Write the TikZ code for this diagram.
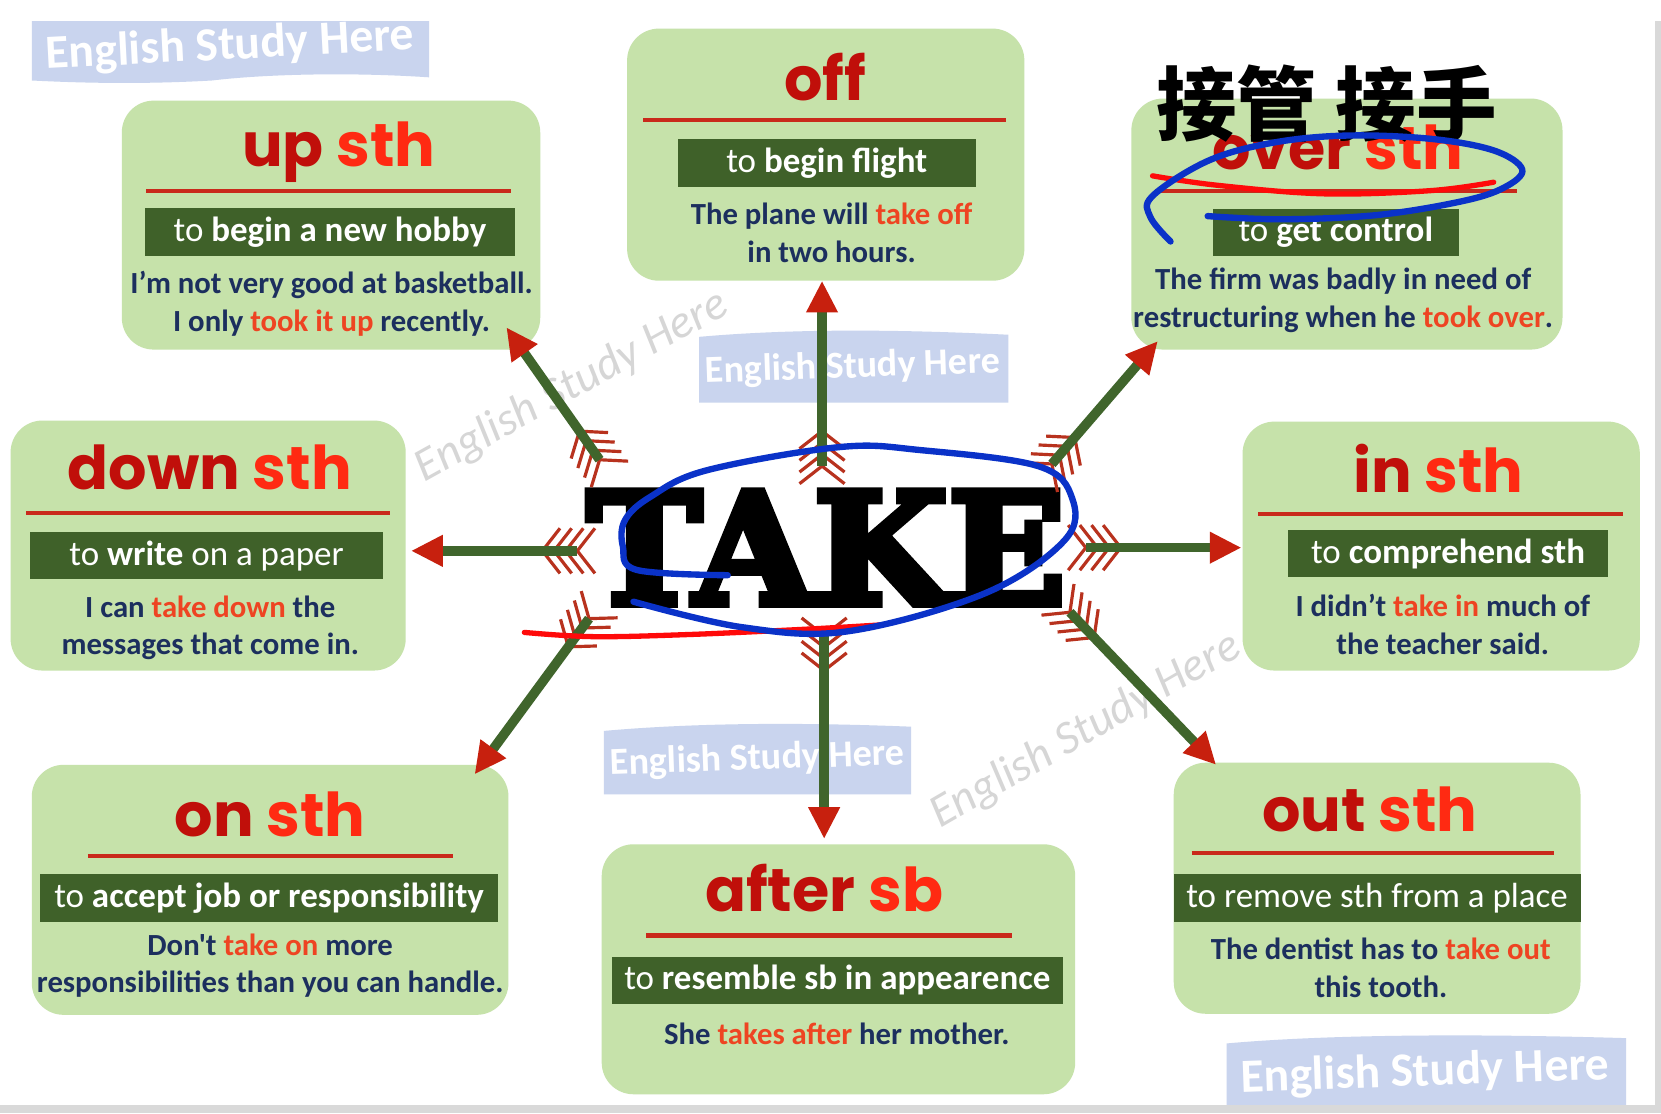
\documentclass[tikz,border=0pt]{standalone}
\usepackage{fontspec}
\setmainfont{Carlito}[Ligatures=TeXOff]
\newfontfamily\titlefont{Poppins}
\newfontfamily\takefont{DejaVu Serif}[BoldFeatures={FakeBold=5}]
\newfontfamily\cjkfont{Noto Sans CJK SC}
\usetikzlibrary{arrows.meta,calc}
\definecolor{BoxFill}{HTML}{C6E2AA}
\definecolor{BarGreen}{HTML}{3F6129}
\definecolor{RuleRed}{HTML}{C9291B}
\definecolor{TitleDark}{HTML}{C00F0A}
\definecolor{TitleBright}{HTML}{FF2A12}
\definecolor{ExNavy}{HTML}{1C2F5E}
\definecolor{ExHot}{HTML}{EE4422}
\definecolor{ShaftGreen}{HTML}{40652C}
\definecolor{HeadRed}{HTML}{C7200E}
\definecolor{FeatherRed}{HTML}{B8321E}
\definecolor{WmFill}{HTML}{C9D4EE}
\definecolor{WmGrey}{HTML}{D6D6D6}
\definecolor{InkBlue}{HTML}{0A32C8}
\definecolor{InkRed}{HTML}{FF0A0A}
\definecolor{EdgeGrey}{HTML}{D9D9D9}
\newcommand\hot[1]{\textcolor{ExHot}{#1}}
\newcommand\ttl[2]{\textcolor{TitleDark}{#1} \textcolor{TitleBright}{#2}}
% arrow from TAKE: fletching at the tail, red tip at the box
\newcommand\fletch[2]{%
  \foreach \k in {0,1,2,3}{%
    \path ($(#1)!\k*11pt!(#2)$) coordinate (fp) ($(#2)!2!(#1)$) coordinate (fb);
    \draw[feather] ($(fp)!27pt!52:(fb)$) -- (fp) -- ($(fp)!27pt!-52:(fb)$);
  }%
  \draw[shaft] (#1) -- (#2);
}
\begin{document}
\begin{tikzpicture}[x=1pt,y=-1pt,
  pbox/.style 2 args={fill=BoxFill,rounded corners=30pt,inner sep=0pt,
    minimum width=#1pt,minimum height=#2pt},
  ptitle/.style={font=\titlefont\bfseries\fontsize{57}{62}\selectfont,
    anchor=base,inner sep=0pt},
  redrule/.style={draw=RuleRed,line width=4pt},
  gbar/.style={fill=BarGreen,text=white,inner sep=0pt,minimum width=#1pt,
    minimum height=45pt,font=\fontsize{33}{35}\selectfont},
  extext/.style={font=\bfseries\fontsize{29}{35.5}\selectfont,text=ExNavy,
    align=center,inner sep=0pt},
  shaft/.style={draw=ShaftGreen,line width=9pt,
    -{Triangle[length=30pt,width=28pt,color=HeadRed]}},
  feather/.style={draw=FeatherRed,line width=3pt},
  wmtext/.style={font=\bfseries\fontsize{#1}{#1}\selectfont,text=white,inner sep=0pt},
  wmscript/.style={font=\itshape\fontsize{44}{46}\selectfont,text=WmGrey,inner sep=0pt},
  blueink/.style={draw=InkBlue,line width=6pt,line cap=round,line join=round},
  redink/.style={draw=InkRed,line width=5pt,line cap=round,line join=round}
]
\useasboundingbox (0,0) rectangle (1568,1051);
\fill[white] (0,0) rectangle (1568,1051);
\fill[EdgeGrey] (1562,20) rectangle (1568,1051);
\fill[EdgeGrey] (0,1043) rectangle (1568,1051);

% watermarks
\fill[WmFill] (30,20) -- (405,20) -- (405,73) .. controls (330,68) and (250,70) .. (200,76)
  .. controls (130,80) and (70,78) .. (30,76) -- cycle;
\node[wmtext=45,rotate=3] (wmA) at (217,44) {English Study Here};
\fill[WmFill] (660,318) .. controls (750,310) and (850,311) .. (952,316) -- (952,380) -- (660,380) -- cycle;
\node[wmtext=36,rotate=2] (wmB) at (805,347) {English Study Here};
\fill[WmFill] (570,690) .. controls (660,682) and (760,682) .. (860,686) -- (860,750) -- (570,750) -- cycle;
\node[wmtext=36,rotate=2] (wmC) at (715,717) {English Study Here};
\fill[WmFill] (1158,985) .. controls (1260,976) and (1400,976) .. (1535,980) -- (1535,1043) -- (1158,1043) -- cycle;
\node[wmtext=45,rotate=2] (wmD) at (1345,1013) {English Study Here};
\node[wmscript,rotate=29] (wmE) at (540,365) {English Study Here};
\node[wmscript,rotate=30] (wmF) at (1025,690) {English Study Here};

% up sth
\node[pbox={395}{235}] (upbox) at (312.5,212.5) {};
\node[ptitle] (upttl) at (320,157) {\ttl{up}{sth}};
\draw[redrule] (138,180) -- (482,180);
\node[gbar=349] (upbar) at (311.5,219) {to \textbf{begin a new hobby}};
\node[extext] (upex) at (313,287) {I’m not very good at basketball.\\I only \hot{took it up} recently.};

% off
\node[pbox={375}{238}] (offbox) at (779.5,146) {};
\node[ptitle,text=TitleDark] (offttl) at (779,95) {off};
\draw[redrule] (607,113) -- (950,113);
\node[gbar=281] (offbar) at (780.5,154) {to \textbf{begin flight}};
\node[extext] (offex) at (785,219.5) {The plane will \hot{take off}\\in two hours.};

% over sth
\node[pbox={407}{237}] (overbox) at (1271.5,211.5) {};
\node[ptitle] (overttl) at (1263,160) {\ttl{over}{sth}};
\draw[redrule] (1090,180) -- (1432,180);
\node[gbar=232] (overbar) at (1261,219.5) {to \textbf{get control}};
\node[extext] (overex) at (1268,283.5) {The firm was badly in need of\\restructuring when he \hot{took over}.};

% down sth
\node[pbox={373}{236}] (downbox) at (196.5,515) {};
\node[ptitle] (downttl) at (198,462) {\ttl{down}{sth}};
\draw[redrule] (25,484) -- (368,484);
\node[gbar=334] (downbar) at (195,524.5) {to \textbf{write} on a paper};
\node[extext] (downex) at (198.5,592.5) {I can \hot{take down} the\\messages that come in.};

% in sth
\node[pbox={375}{235}] (inbox) at (1360.5,515.5) {};
\node[ptitle] (inttl) at (1358,465) {\ttl{in}{sth}};
\draw[redrule] (1188,485) -- (1532,485);
\node[gbar=302] (inbar) at (1367,522.5) {to \textbf{comprehend sth}};
\node[extext] (inex) at (1362,589.5) {I didn’t \hot{take in} much of\\the teacher said.};

% on sth
\node[pbox={450}{236}] (onbox) at (255,840) {};
\node[ptitle] (onttl) at (255,790) {\ttl{on}{sth}};
\draw[redrule] (83,808) -- (428,808);
\node[gbar=432] (onbar) at (254,847.5) {to \textbf{accept job or responsibility}};
\node[extext] (onex) at (255,911.5) {Don't \hot{take on} more\\responsibilities than you can handle.};

% after sb
\node[pbox={447}{236}] (afterbox) at (791.5,915) {};
\node[ptitle] (afterttl) at (778,860) {\ttl{after}{sb}};
\draw[redrule] (610,883) -- (955,883);
\node[gbar=425] (afterbar) at (790.5,925.5) {to \textbf{resemble sb in appearence}};
\node[extext] (afterex) at (790,976) {She \hot{takes after} her mother.};

% out sth
\node[pbox={384}{237}] (outbox) at (1300,838.5) {};
\node[ptitle] (outttl) at (1293,785) {\ttl{out}{sth}};
\draw[redrule] (1125,805) -- (1467,805);
\node[gbar=384] (outbar) at (1300,847.5) {to remove sth from a place};
\node[extext] (outex) at (1303.5,913.5) {The dentist has to \hot{take out}\\this tooth.};

% centre word
\node[font=\takefont\bfseries\fontsize{146}{146}\selectfont,inner sep=0pt] (take) at (780,517) {TAKE};

% arrows
\coordinate (tN)  at (776,440);  \coordinate (hN)  at (776,265);
\coordinate (tS)  at (778,600);  \coordinate (hS)  at (778,792);
\coordinate (tW)  at (545,520);  \coordinate (hW)  at (388,520);
\coordinate (tE)  at (1025,517); \coordinate (hE)  at (1172,517);
\coordinate (tNW) at (566,434);  \coordinate (hNW) at (478,309);
\coordinate (tNE) at (993,438);  \coordinate (hNE) at (1093,322);
\coordinate (tSW) at (556,584);  \coordinate (hSW) at (448,731);
\coordinate (tSE) at (1010,578); \coordinate (hSE) at (1148,722);
\fletch{tN}{hN}
\fletch{tS}{hS}
\fletch{tW}{hW}
\fletch{tE}{hE}
\fletch{tNW}{hNW}
\fletch{tNE}{hNE}
\fletch{tSW}{hSW}
\fletch{tSE}{hSE}

% handwritten notes
\node[font=\cjkfont\bfseries\fontsize{76}{76}\selectfont,inner sep=0pt] (zh) at (1252,98) {接管 接手};
\draw[redink] plot[smooth,tension=0.6] coordinates
  {(1088,166) (1150,175) (1250,183) (1350,180) (1410,172)};
\draw[blueink] plot[smooth,tension=0.6] coordinates
  {(1105,228) (1086,205) (1088,185) (1140,152) (1200,135) (1270,128) (1350,131)
   (1410,142) (1437,160) (1420,177) (1380,190) (1300,203) (1210,207) (1140,204)};
\draw[redink] plot[smooth,tension=0.6] coordinates
  {(495,597) (560,601) (650,599) (760,594) (830,590)};
\draw[blueink] plot[smooth,tension=0.6] coordinates
  {(598,568) (700,592) (800,596) (930,560) (1005,510) (1012,470) (980,440)
   (870,425) (793,422) (667,444) (614,469) (590,491) (588,516) (601,538) (687,543)};
\end{tikzpicture}
\end{document}
